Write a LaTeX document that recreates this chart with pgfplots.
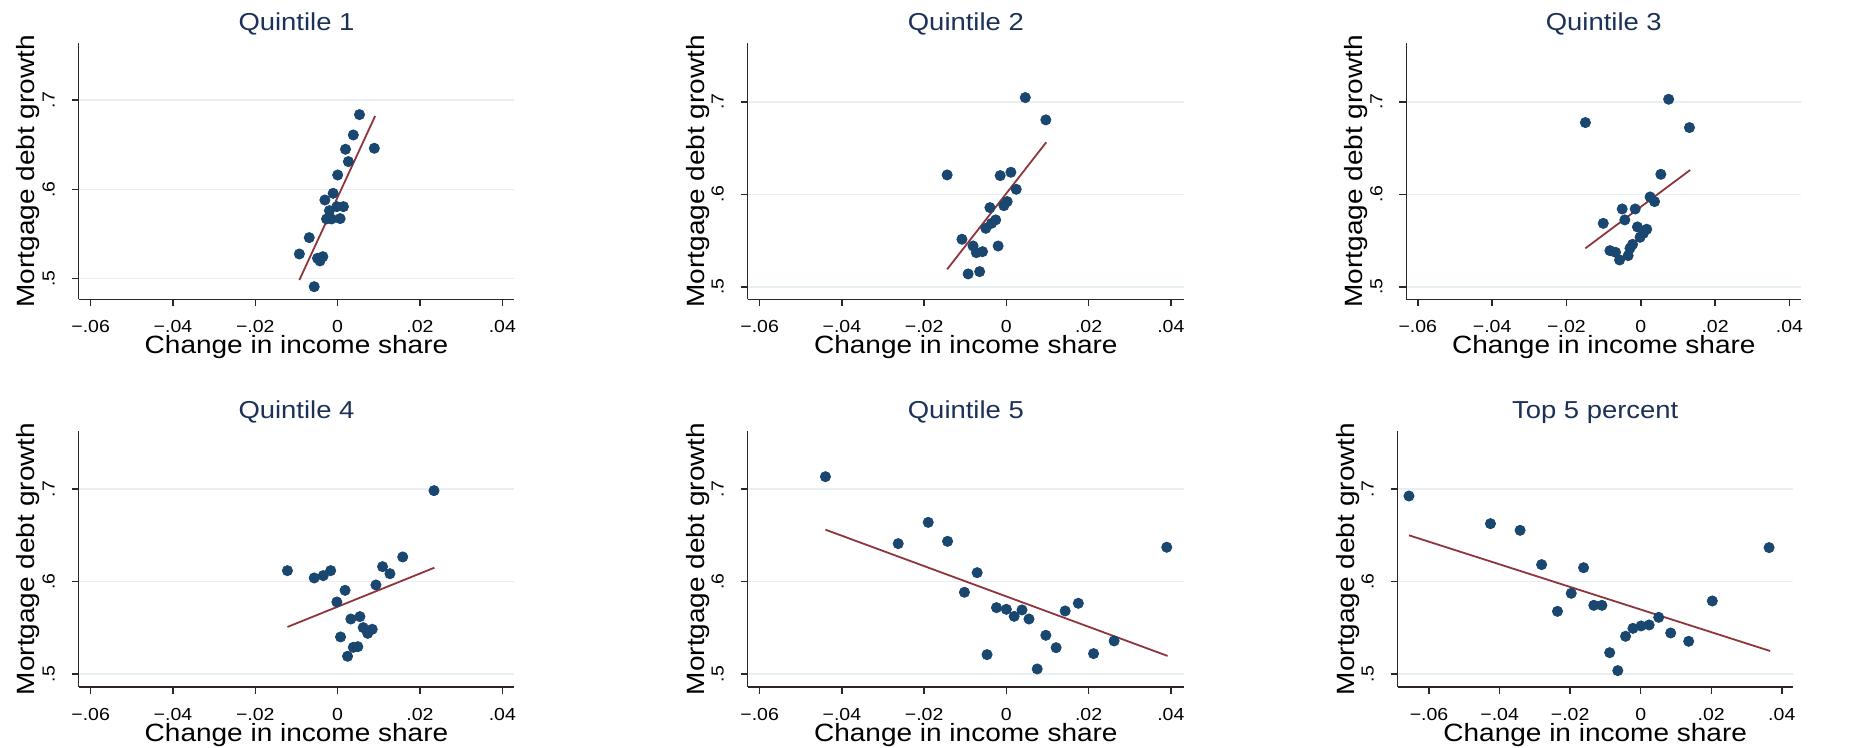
\documentclass[border=0pt]{standalone}
\usepackage{fontspec}
\setmainfont{Liberation Sans}[FakeStretch=1.12]
\usepackage{pgfplots}
\pgfplotsset{compat=1.18}
\definecolor{mk}{RGB}{26,71,111}
\definecolor{fitc}{RGB}{144,53,59}
\definecolor{gridc}{RGB}{232,239,243}
\definecolor{axisc}{RGB}{40,40,40}
\definecolor{titlec}{RGB}{28,48,88}
\pgfplotsset{
  stata/.style={
    scale only axis, anchor=south west, clip=false,
    axis lines*=left, axis line style={-, draw=axisc, line width=0.75pt},
    tick align=outside, major tick length=3.5pt,
    tick style={draw=axisc, line width=0.75pt},
    xtick={-0.06,-0.04,-0.02,0,0.02,0.04},
    xticklabels={−.06,−.04,−.02,0,.02,.04},
    ytick={0.5,0.6,0.7}, yticklabels={.5,.6,.7},
    scaled ticks=false,
    ymajorgrids, grid style={draw=gridc, line width=0.75pt},
    ticklabel style={font=\fontsize{8.7}{10}\selectfont},
    xticklabel style={anchor=base, yshift=-13.2pt},
    yticklabel style={xshift=-8.5pt, rotate=90, anchor=base},
    every axis title/.style={at={(axis description cs:0.5,1)}, anchor=base, yshift=6.15pt, font=\fontsize{12.25}{14}\selectfont, text=titlec},
    every axis x label/.style={at={(axis description cs:0.5,0)}, anchor=base, yshift=-27.35pt, font=\fontsize{12.5}{14}\selectfont},
    every axis y label/.style={at={(axis description cs:0,0.5)}, xshift=-21.85pt, rotate=90, anchor=base, font=\fontsize{12.5}{14}\selectfont},
    xlabel={Change in income share}, ylabel={Mortgage debt growth},
  },
  pts/.style={only marks, mark=*, mark size=2.55pt, mark options={draw=mk, fill=mk, line width=0.4pt}, color=mk},
  fit/.style={no marks, draw=fitc, line width=0.9pt},
}
\begin{document}
\begin{tikzpicture}
\useasboundingbox (0pt,0pt) rectangle (938pt,374pt);
% Panel 1
\begin{axis}[stata, at={(39.35pt,224.35pt)}, width=217.8pt, height=128pt,
  xmin=-0.0629, xmax=0.0429, ymin=0.4769, ymax=0.7634, title={Quintile 1}]
\addplot[pts] coordinates {(0.0053,0.6836) (0.0038,0.6608) (0.0089,0.6459) (0.0019,0.6448) (0.0026,0.6310) (0.0000,0.6160) (-0.0011,0.5955) (-0.0031,0.5880) (0.0014,0.5806) (-0.0002,0.5806) (-0.0020,0.5761) (-0.0027,0.5668) (-0.0015,0.5668) (0.0006,0.5672) (-0.0069,0.5459) (-0.0093,0.5276) (-0.0049,0.5228) (-0.0036,0.5246) (-0.0043,0.5198) (-0.0057,0.4910)};
\addplot[fit] coordinates {(-0.0093,0.4985) (0.0091,0.6820)};
\end{axis}
% Panel 2
\begin{axis}[stata, at={(373.85pt,224.35pt)}, width=218.15pt, height=128pt,
  xmin=-0.0629, xmax=0.0432, ymin=0.4865, ymax=0.7632, title={Quintile 2}]
\addplot[pts] coordinates {(0.0046,0.7045) (0.0096,0.6804) (-0.0144,0.6209) (-0.0015,0.6202) (0.0011,0.6238) (0.0024,0.6054) (0.0002,0.5921) (-0.0006,0.5877) (-0.0040,0.5856) (-0.0026,0.5723) (-0.0036,0.5686) (-0.0050,0.5632) (-0.0108,0.5514) (-0.0081,0.5441) (-0.0020,0.5441) (-0.0073,0.5369) (-0.0058,0.5380) (-0.0093,0.5139) (-0.0065,0.5164)};
\addplot[fit] coordinates {(-0.0144,0.5189) (0.0097,0.6562)};
\end{axis}
% Panel 3
\begin{axis}[stata, at={(703.15pt,224.35pt)}, width=197.5pt, height=128pt,
  xmin=-0.0631, xmax=0.0432, ymin=0.4865, ymax=0.7632, title={Quintile 3}]
\addplot[pts] coordinates {(0.0075,0.7027) (-0.0149,0.6775) (0.0131,0.6721) (0.0054,0.6216) (0.0025,0.5971) (0.0037,0.5921) (-0.0050,0.5841) (-0.0015,0.5841) (-0.0043,0.5723) (-0.0101,0.5686) (-0.0009,0.5647) (0.0016,0.5622) (0.0007,0.5578) (-0.0002,0.5535) (-0.0022,0.5459) (-0.0029,0.5416) (-0.0083,0.5391) (-0.0068,0.5373) (-0.0057,0.5290) (-0.0034,0.5337)};
\addplot[fit] coordinates {(-0.0149,0.5416) (0.0133,0.6263)};
\end{axis}
% Panel 4
\begin{axis}[stata, at={(39.35pt,30.5pt)}, width=217.8pt, height=128pt,
  xmin=-0.0629, xmax=0.0429, ymin=0.4861, ymax=0.7629, title={Quintile 4}]
\addplot[pts] coordinates {(0.0234,0.6984) (0.0158,0.6267) (-0.0122,0.6119) (-0.0017,0.6119) (0.0109,0.6162) (0.0127,0.6086) (-0.0057,0.6040) (-0.0035,0.6065) (0.0093,0.5964) (0.0018,0.5906) (-0.0002,0.5780) (0.0054,0.5622) (0.0032,0.5596) (0.0062,0.5503) (0.0084,0.5485) (0.0073,0.5441) (0.0007,0.5402) (0.0038,0.5290) (0.0049,0.5297) (0.0024,0.5193)};
\addplot[fit] coordinates {(-0.0122,0.5510) (0.0235,0.6151)};
\end{axis}
% Panel 5
\begin{axis}[stata, at={(373.85pt,30.5pt)}, width=218.15pt, height=128pt,
  xmin=-0.0629, xmax=0.0432, ymin=0.4861, ymax=0.7629, title={Quintile 5}]
\addplot[pts] coordinates {(-0.0440,0.7135) (-0.0190,0.6641) (-0.0263,0.6411) (-0.0143,0.6436) (-0.0071,0.6097) (-0.0102,0.5885) (-0.0024,0.5719) (0.0000,0.5701) (0.0019,0.5625) (0.0038,0.5694) (0.0055,0.5596) (0.0143,0.5683) (0.0175,0.5766) (0.0096,0.5420) (0.0121,0.5286) (-0.0047,0.5211) (0.0075,0.5056) (0.0212,0.5222) (0.0262,0.5359) (0.0390,0.6372)};
\addplot[fit] coordinates {(-0.0440,0.6562) (0.0392,0.5197)};
\end{axis}
% Panel 6
\begin{axis}[stata, at={(698.85pt,30.5pt)}, width=197.5pt, height=128pt,
  xmin=-0.0689, xmax=0.0431, ymin=0.4861, ymax=0.7629, title={Top 5 percent}]
\addplot[pts] coordinates {(-0.0657,0.6926) (-0.0426,0.6627) (-0.0342,0.6555) (-0.0281,0.6184) (-0.0162,0.6151) (-0.0197,0.5874) (-0.0236,0.5679) (-0.0133,0.5744) (-0.0110,0.5744) (0.0203,0.5791) (0.0364,0.6368) (0.0051,0.5614) (0.0024,0.5532) (0.0001,0.5521) (-0.0022,0.5495) (-0.0043,0.5409) (0.0085,0.5445) (0.0136,0.5355) (-0.0088,0.5232) (-0.0065,0.5038)};
\addplot[fit] coordinates {(-0.0657,0.6501) (0.0367,0.5250)};
\end{axis}
\end{tikzpicture}
\end{document}
